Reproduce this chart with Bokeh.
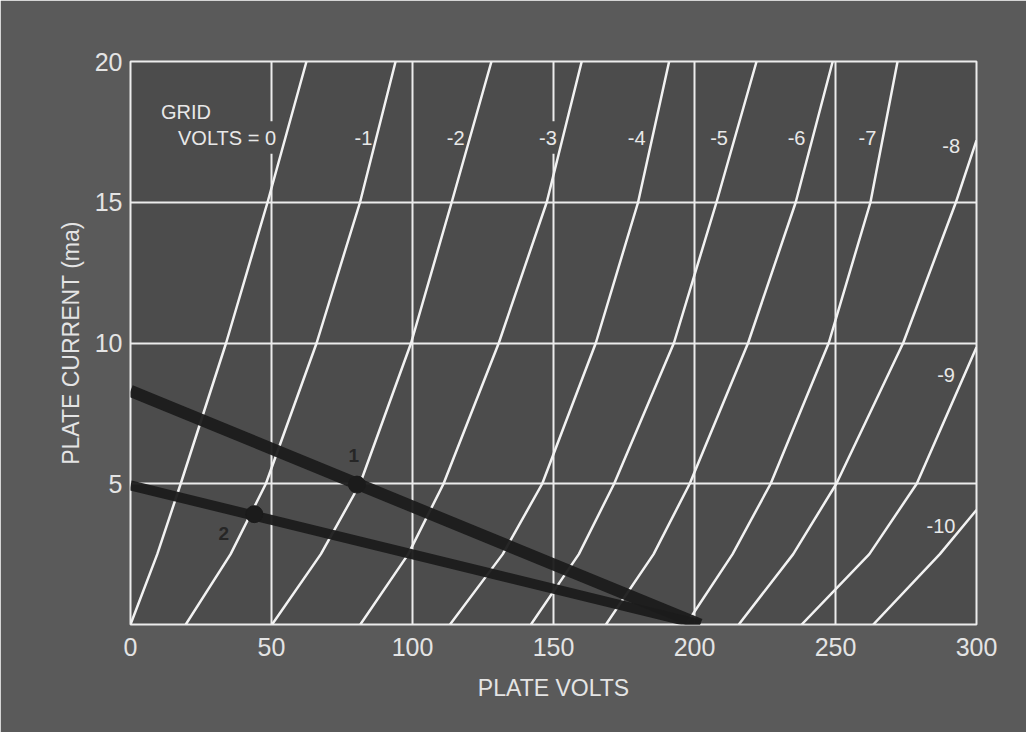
from bokeh.plotting import figure
from bokeh.models import FixedTicker, ColumnDataSource
from bokeh.core.properties import value
from bokeh.embed import file_html
from bokeh.resources import INLINE

# ---- data ----
x_ticks = [0, 50, 100, 150, 200, 250, 300]
y_ticks = [5, 10, 15, 20]

# plate current points (ma) at which plate volts were read
curve_ma = [0, 2.5, 5, 10, 15, 20]
# plate volts for each grid-volts curve
vg_0 = [0, 9.5, 17.8, 33.9, 48.6, 62.4]
vg_1 = [19.6, 35.5, 48, 66, 81.4, 94]
vg_2 = [50.2, 67.5, 81.4, 99.5, 113.9, 128]
vg_3 = [81.5, 98.5, 111, 130.6, 147.6, 160]
vg_4 = [113.3, 132, 146, 165, 180, 191]
vg_5 = [142, 159, 171.5, 192.7, 207.8, 222]
vg_6 = [168.6, 185.5, 198.3, 219, 235.9, 249]
vg_7 = [197, 213.5, 227, 247.6, 262.4, 272]
vg_8 = [215.7, 235, 250.3, 274, 292.7, 300]
vg_8_ma = [0, 2.5, 5, 10, 15, 17.2]
vg_9 = [238, 262, 278.8, 300]
vg_9_ma = [0, 2.5, 5, 9.85]
vg_10 = [263.4, 287, 300]
vg_10_ma = [0, 2.5, 4.07]

curve_volts = [vg_0, vg_1, vg_2, vg_3, vg_4, vg_5, vg_6, vg_7, vg_8, vg_9, vg_10]
curve_currents = [curve_ma] * 8 + [vg_8_ma, vg_9_ma, vg_10_ma]

# curve labels
label_text = ["VOLTS = 0", "-1", "-2", "-3", "-4", "-5", "-6", "-7", "-8", "-9", "-10"]
label_x = [51.6, 82.6, 115.3, 148, 179.5, 208.7, 236.2, 261.3, 291, 289.2, 287.4]
label_y = [17.3, 17.3, 17.3, 17.3, 17.3, 17.3, 17.3, 17.3, 17.0, 8.85, 3.5]
label_align = ["right"] + ["center"] * 10
# grid lines that are broken by a label
gap_x = [50, 150]
gap_y = [17.3, 17.3]

# load lines
load1_volts = [0, 202]
load1_ma = [8.3, 0]
load2_volts = [0, 202]
load2_ma = [4.94, 0]
point_volts = [80.3, 43.9]
point_ma = [4.97, 3.92]
point_names = ["1", "2"]
point_label_x = [79.2, 33.1]
point_label_y = [6.0, 3.22]

FG = "#ececec"
BG = "#4c4c4c"
FONT = "Liberation Sans"

p = figure(width=1026, height=732, x_range=(0, 300), y_range=(0, 20),
           output_backend="svg", toolbar_location=None,
           min_border_left=130, min_border_right=50,
           min_border_top=61, min_border_bottom=108,
           background_fill_color=BG, border_fill_color="#5a5a5a",
           outline_line_color=FG, outline_line_width=2)

p.xaxis.ticker = FixedTicker(ticks=x_ticks)
p.yaxis.ticker = FixedTicker(ticks=y_ticks)
for g in (p.xgrid, p.ygrid):
    g.grid_line_color = FG
    g.grid_line_width = 2
    g.grid_line_alpha = 1.0

for ax in (p.xaxis, p.yaxis):
    ax.axis_line_color = None
    ax.major_tick_line_color = None
    ax.minor_tick_line_color = None
    ax.major_label_text_color = "#e4e4e4"
    ax.major_label_text_font = FONT
    ax.major_label_text_font_size = "25px"
    ax.axis_label_text_color = "#e4e4e4"
    ax.axis_label_text_font = FONT
    ax.axis_label_text_font_size = "23px"
    ax.axis_label_text_font_style = "normal"

p.xaxis.axis_label = "PLATE VOLTS"
p.yaxis.axis_label = "PLATE CURRENT (ma)"
p.xaxis.major_label_standoff = 7
p.xaxis.axis_label_standoff = 16
p.yaxis.major_label_standoff = 2
p.yaxis.axis_label_standoff = 8

# gaps in the grid lines behind labels
p.rect(gap_x, gap_y, width=6, height=1.15, width_units="screen",
       fill_color=BG, line_color=None)

# characteristic curves
for xs, ys in zip(curve_volts, curve_currents):
    p.line(xs, ys, line_color="#f2f2f2", line_width=2.5)

# load lines
p.line(load1_volts, load1_ma, line_color="#1b1b1b", line_width=12, line_alpha=0.95)
p.line(load2_volts, load2_ma, line_color="#1b1b1b", line_width=10, line_alpha=0.95)
p.scatter(point_volts, point_ma, size=17, color="#1b1b1b")

p.text(point_label_x, point_label_y, text=point_names, text_color="#262626",
       text_font=value(FONT), text_font_size="19px", text_font_style="bold",
       text_align="center", text_baseline="middle")

src = ColumnDataSource(dict(x=label_x, y=label_y, t=label_text, a=label_align))
p.text("x", "y", text="t", source=src, text_align="a", text_baseline="middle",
       text_color="#e8e8e8", text_font=value(FONT), text_font_size="20px")
p.text([10.8], [18.2], text=["GRID"], text_align="left", text_baseline="middle",
       text_color="#e8e8e8", text_font=value(FONT), text_font_size="20px")

open("out.html", "w").write(file_html(p, INLINE))
